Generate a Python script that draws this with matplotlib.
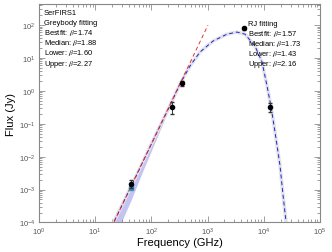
import numpy as np
import matplotlib
matplotlib.use('Agg')
import matplotlib.pyplot as plt

plt.rcParams['font.family'] = ['Liberation Sans', 'DejaVu Sans']
plt.rcParams['mathtext.fontset'] = 'stix'

# Photometry (GHz, Jy)
freq = [43, 230, 350, 4400, 13000]
flux = [1.5e-3, 0.33, 1.7, 80, 0.33]
ferr = [0.4e-3, 0.13, 0.25, 10, 0.1]

# second measurement at 43 GHz
freq2 = [43]
flux2 = [1.1e-3]

# RJ power law fit (red)
rj_freq = [21.6, 1016]
rj_flux = [1e-4, 100]

# greybody fit (blue)
gb_freq = [22, 50, 100, 200, 323, 486, 733, 1247, 2213, 3334, 4626,
           6966, 9290, 11400, 13430, 15800, 19400, 22000, 24800]
gb_flux = [1.1e-4, 2.0e-3, 2.4e-2, 0.28, 1.6, 5.7, 15.1, 32.7, 53, 61.4, 53,
           23.1, 7.6, 1.42, 0.33, 0.057, 5.4e-3, 6.6e-4, 1.07e-4]

# uncertainty band of the RJ fit
band_freq = [18, 30, 43, 70, 120, 200, 300]
band_up = [10**-4.1, 10**-3.35, 10**-2.80, 10**-2.08, 10**-1.27, 10**-0.50, 10**0.12]
band_lo = [10**-4.85, 10**-3.95, 10**-3.35, 10**-2.45, 10**-1.50, 10**-0.60, 10**0.08]

grey_lines = ['SerFIRS1', 'Greybody fitting', 'Bestfit: $\\beta$=1.74',
              'Median: $\\beta$=1.88', 'Lower: $\\beta$=1.60', 'Upper: $\\beta$=2.27']
rj_lines = ['RJ fitting', 'Bestfit: $\\beta$=1.57', 'Median: $\\beta$=1.73',
            'Lower: $\\beta$=1.43', 'Upper: $\\beta$=2.16']

fig = plt.figure(figsize=(3.32, 2.53), dpi=100)
ax = fig.add_axes([0.117, 0.117, 0.847, 0.863])

ax.fill_between(band_freq, band_lo, band_up, color='#c4c4f2', lw=0, zorder=1)
ax.plot(gb_freq, gb_flux, color='#e2e2e2', lw=2.5, zorder=2)
ax.plot(gb_freq, gb_flux, color='#2020e0', lw=0.7, ls=(0, (4, 3)), zorder=3)
ax.plot(rj_freq, rj_flux, color='#f03030', lw=0.7, ls=(0, (4, 3)), zorder=3)

ax.errorbar(freq, flux, yerr=ferr, fmt='o', color='black', ms=3,
            ecolor='#333333', elinewidth=0.7, capsize=1.5, zorder=5)
ax.plot(freq2, flux2, 's', color='#3a8fb5', ms=3, zorder=4)

ax.set_xscale('log')
ax.set_yscale('log')
ax.set_xlim(1, 1e5)
ax.set_ylim(1e-4, 10**2.64)

ax.set_xlabel('Frequency (GHz)', fontsize=8, labelpad=0)
ax.set_ylabel('Flux (Jy)', fontsize=8, labelpad=2)

ax.tick_params(which='both', direction='in', top=True, right=True,
               colors='#777777', labelcolor='#555555', labelsize=5.5)
ax.tick_params(which='major', length=4, width=0.5, pad=2.5)
ax.tick_params(which='minor', length=2, width=0.5)
for s in ax.spines.values():
    s.set_color('#888888')
    s.set_linewidth(0.8)

# one text per line, to keep the spacing even
step = 0.046
for i, t in enumerate(grey_lines):
    ax.text(0.018, 0.953 - i * step, t, transform=ax.transAxes,
            fontsize=5.4, va='baseline', ha='left')
for i, t in enumerate(rj_lines):
    ax.text(0.744, 0.903 - i * step, t, transform=ax.transAxes,
            fontsize=5.4, va='baseline', ha='left')

fig.savefig('out.png', dpi=100)
